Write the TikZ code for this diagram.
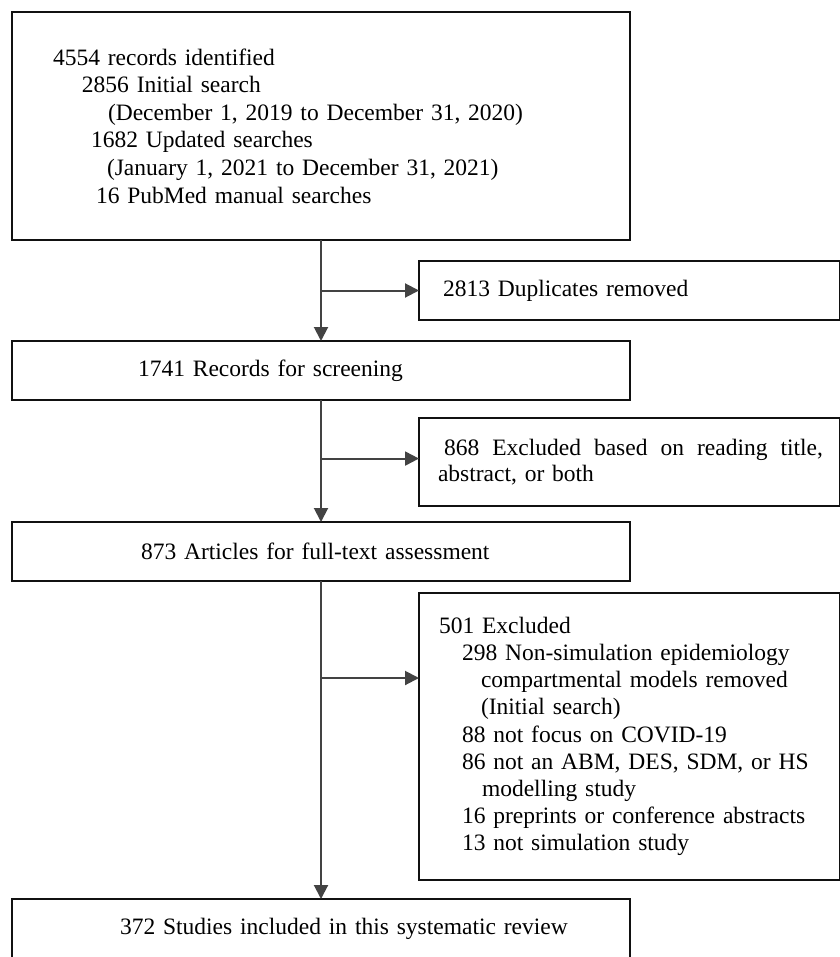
\documentclass[tikz,border=0pt]{standalone}
\usepackage{fontspec}
\setmainfont{Liberation Serif}
\usetikzlibrary{arrows.meta,calc}
\definecolor{conn}{HTML}{434343}
\definecolor{edge}{HTML}{111111}
\tikzset{
  box/.style={draw=edge, line width=2.4pt, fill=white, rectangle, anchor=north west,
    outer sep=0pt, inner xsep=0pt, inner ysep=0pt, align=left,
    font=\fontsize{23.5}{27.6}\selectfont},
  link/.style={draw=conn, line width=2pt},
  arr/.style={link, -{Triangle[length=14pt,width=14pt]}},
}
\begin{document}
\begin{tikzpicture}[x=1pt,y=-1pt]
\fill[white] (0,0) rectangle (839,957);
\useasboundingbox (0,0) rectangle (839,957);

\node[box, minimum width=618pt, minimum height=228pt, text width=618pt] (b1) at (12,12)
  {\hspace*{41pt}4554 records identified\\
   \hspace*{70pt}2856 Initial search\\
   \hspace*{96pt}(December 1, 2019 to December 31, 2020)\\
   \hspace*{79pt}1682 Updated searches\\
   \hspace*{95pt}(January 1, 2021 to December 31, 2021)\\
   \hspace*{84pt}16 PubMed manual searches};

\node[box, minimum width=421pt, minimum height=59pt, text width=421pt] (dup) at (419,261)
  {\hspace*{24pt}2813 Duplicates removed};

\node[box, minimum width=618pt, minimum height=59pt, text width=618pt] (b2) at (12,341)
  {\hspace*{126pt}1741 Records for screening};

\node[box, minimum width=421pt, minimum height=88pt, text width=421pt,
      font=\fontsize{23.5}{26.5}\selectfont] (ex1) at (419,418)
  {\hspace*{25pt}\makebox[379pt][l]{868\hfill Excluded\hfill based\hfill on\hfill reading\hfill title,}\\
   \hspace*{19pt}abstract, or both};

\node[box, minimum width=618pt, minimum height=59pt, text width=618pt] (b3) at (12,522)
  {\hspace*{129pt}873 Articles for full-text assessment};

\node[box, minimum width=421pt, minimum height=287pt, text width=421pt,
      font=\fontsize{23.5}{27.2}\selectfont] (ex2) at (419,593)
  {\hspace*{20pt}501 Excluded\\
   \hspace*{43pt}298 Non-simulation epidemiology\\
   \hspace*{62pt}compartmental models removed\\
   \hspace*{62pt}(Initial search)\\
   \hspace*{43pt}88 not focus on COVID-19\\
   \hspace*{43pt}86 not an ABM, DES, SDM, or HS\\
   \hspace*{63pt}modelling study\\
   \hspace*{43pt}16 preprints or conference abstracts\\
   \hspace*{43pt}13 not simulation study};

\node[box, minimum width=618pt, minimum height=60pt, text width=618pt] (b4) at (12,899)
  {\hspace*{108pt}372 Studies included in this systematic review};

\coordinate (j1) at ($(b1.south)!0.5!(b2.north)$);
\coordinate (j2) at ($(b2.south)!0.48!(b3.north)$);
\path (b3.south) ++(0,97) coordinate (j3);

\draw[arr] (b1.south) -- (b2.north);
\draw[arr] (b2.south) -- (b3.north);
\draw[arr] (b3.south) -- (b4.north);
\draw[arr] (j1) -- (j1 -| dup.west);
\draw[arr] (j2) -- (j2 -| ex1.west);
\draw[arr] (j3) -- (j3 -| ex2.west);
\end{tikzpicture}
\end{document}
